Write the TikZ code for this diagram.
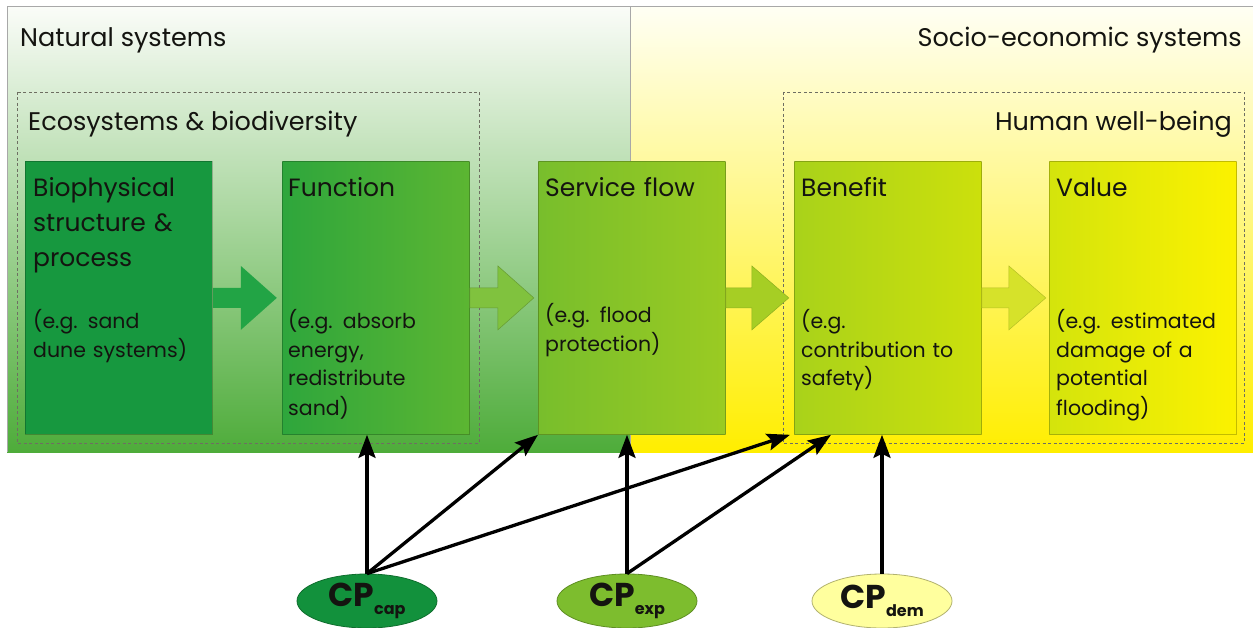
\documentclass[tikz,border=0pt]{standalone}
\usepackage{fontspec}
\setmainfont{Poppins}
\usetikzlibrary{arrows.meta,calc,shapes.geometric}
\definecolor{natTop}{HTML}{FAFCF8}
\definecolor{natMid}{HTML}{C6E4B8}
\definecolor{natBot}{HTML}{4EAC3A}
\definecolor{socTop}{HTML}{FFFFF4}
\definecolor{socMid}{HTML}{FFFAAE}
\definecolor{socBot}{HTML}{FFEE00}
\definecolor{frameGray}{HTML}{A8A8A8}
\definecolor{dashGray}{HTML}{6E6E62}
\definecolor{txt}{HTML}{141410}
\definecolor{bioC}{HTML}{17983F}
\definecolor{funL}{HTML}{2EA63C}
\definecolor{funR}{HTML}{5CB632}
\definecolor{svcL}{HTML}{78BE2C}
\definecolor{svcR}{HTML}{9ACB22}
\definecolor{benL}{HTML}{A9D21A}
\definecolor{benR}{HTML}{CCE00C}
\definecolor{valL}{HTML}{D4E40C}
\definecolor{valR}{HTML}{FCF200}
\definecolor{arA}{HTML}{22A445}
\definecolor{arB}{HTML}{80C23E}
\definecolor{arC}{HTML}{A6CE24}
\definecolor{arD}{HTML}{D6E22A}
\definecolor{capC}{HTML}{12913C}
\definecolor{expC}{HTML}{7DBD2E}
\definecolor{demC}{HTML}{FFFF9E}
\begin{document}
\begin{tikzpicture}[x=1pt,y=-1pt,
  box/.style={rectangle, draw=black, draw opacity=0.22, line width=0.8pt, minimum width=187pt, minimum height=273pt, anchor=north west, inner sep=0pt},
  ttl/.style={anchor=base west, text width=185pt, align=left, inner sep=0pt, text=txt, font=\fontsize{25}{35}\selectfont},
  ex/.style={anchor=base west, text width=185pt, align=left, inner sep=0pt, text=txt, font=\fontsize{20.5}{29}\selectfont},
  hdr/.style={inner sep=0pt, text=txt, font=\fontsize{25.5}{30}\selectfont},
  dbox/.style={draw=dashGray, dashed, dash pattern=on 3pt off 2.5pt, line width=0.8pt},
  blk/.style={line width=0.5pt},
  cp/.style={ellipse, minimum width=140pt, minimum height=54pt, line width=0.8pt, inner sep=0pt, text=txt},
  conn/.style={line width=3.3pt, -{Stealth[length=23pt,width=17pt,inset=4pt]}}
]
\useasboundingbox (0,0) rectangle (1253,628);
\fill[white] (0,0) rectangle (1253,628);
% panels
\shade[top color=natTop, middle color=natMid, bottom color=natBot] (7,7) rectangle (630,452);
\shade[top color=socTop, middle color=socMid, bottom color=socBot] (630,7) rectangle (1253,452);
\draw[frameGray, line width=1pt] (7,452) -- (7,7) -- (1253,7);
\draw[frameGray, line width=1pt] (630,7) -- (630,452);
\node[hdr, anchor=base west] (nat) at (20,47) {Natural systems};
\node[hdr, anchor=base east] (soc) at (1242,47) {Socio-economic systems};
% dashed groups
\draw[dbox] (17,92) rectangle (479,443);
\draw[dbox] (783,92) rectangle (1244,443);
\node[hdr, anchor=base west] (eco) at (28,131) {Ecosystems \& biodiversity};
\node[hdr, anchor=base east] (hwb) at (1232,131) {Human well-being};
% boxes
\node[box, fill=bioC] (bio) at (25,161) {};
\node[box, left color=funL, right color=funR] (fun) at (282,161) {};
\node[box, left color=svcL, right color=svcR] (svc) at (538,161) {};
\node[box, left color=benL, right color=benR] (ben) at (794,161) {};
\node[box, left color=valL, right color=valR] (val) at (1049,161) {};
% titles
\node[ttl] (bioT) at ($(bio.north west)+(8,36)$) {Biophysical\\structure \&\\process};
\node[ttl] (funT) at ($(fun.north west)+(6,36)$) {Function};
\node[ttl] (svcT) at ($(svc.north west)+(7,36)$) {Service flow};
\node[ttl] (benT) at ($(ben.north west)+(7,36)$) {Benefit};
\node[ttl] (valT) at ($(val.north west)+(7,36)$) {Value};
% examples
\node[ex] (bioE) at ($(bio.north west)+(8,167)$) {(e.g. sand\\dune systems)};
\node[ex] (funE) at ($(fun.north west)+(6,167)$) {(e.g. absorb\\energy,\\redistribute\\sand)};
\node[ex] (svcE) at ($(svc.north west)+(7,162)$) {(e.g. flood\\protection)};
\node[ex] (benE) at ($(ben.north west)+(7,167)$) {(e.g.\\contribution to\\safety)};
\node[ex] (valE) at ($(val.north west)+(7,167)$) {(e.g. estimated\\damage of a\\potential\\flooding)};
% block arrows
\fill[arA] (bio.east) ++(0,-10) -- ++(28,0) -- ++(0,-22) -- ++(36,32) -- ++(-36,32) -- ++(0,-22) -- ++(-28,0) -- cycle;
\filldraw[blk, fill=arB, draw=arB!80!black] (fun.east) ++(0,-10) -- ++(28,0) -- ++(0,-22) -- ++(36,32) -- ++(-36,32) -- ++(0,-22) -- ++(-28,0) -- cycle;
\filldraw[blk, fill=arC, draw=arC!85!black] (svc.east) ++(0,-10) -- ++(26,0) -- ++(0,-22) -- ++(37,32) -- ++(-37,32) -- ++(0,-22) -- ++(-26,0) -- cycle;
\filldraw[blk, fill=arD, draw=arD!85!black] (ben.east) ++(0,-10) -- ++(27,0) -- ++(0,-22) -- ++(37,32) -- ++(-37,32) -- ++(0,-22) -- ++(-27,0) -- cycle;
% CP ellipses
\node[cp, fill=capC, draw=capC!75!black] (cap) at (367,601) {\fontsize{33}{33}\selectfont\bfseries CP\raisebox{-8pt}{\fontsize{16}{16}\selectfont cap}};
\node[cp, fill=expC, draw=expC!75!black] (exp) at (627,601) {\fontsize{33}{33}\selectfont\bfseries CP\raisebox{-8pt}{\fontsize{16}{16}\selectfont exp}};
\node[cp, fill=demC, draw=demC!70!black] (dem) at (882,601) {\fontsize{33}{33}\selectfont\bfseries CP\raisebox{-8pt}{\fontsize{16}{16}\selectfont dem}};
% connectors
\draw[conn] (cap.north) -- (cap.north |- fun.south);
\draw[conn] (cap.north) -- (svc.south west);
\draw[conn] (cap.north) -- ($(ben.south west)+(-4,0)$);
\draw[conn] (exp.north) -- (exp.north |- svc.south);
\draw[conn] (exp.north) -- ($(ben.south west)+(37,0)$);
\draw[conn] (dem.north) -- (dem.north |- ben.south);
\end{tikzpicture}
\end{document}
